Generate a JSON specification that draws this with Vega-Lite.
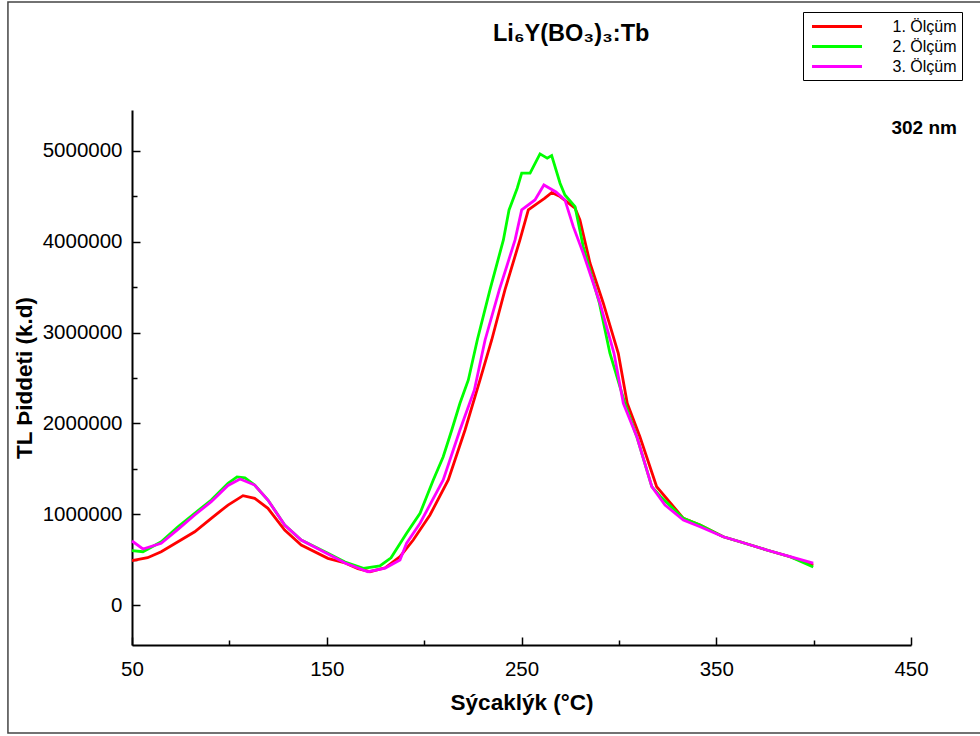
{
"$schema": "https://vega.github.io/schema/vega-lite/v6.json",
"width": 779, "height": 535,
"autosize": "none",
"padding": {"left": 132, "top": 110, "right": 69, "bottom": 91},
"background": "white",
"config": {"view": {"stroke": null}, "font": "Liberation Sans"},
"title": {"text": "Li₆Y(BO₃)₃:Tb", "anchor": "start", "frame": "group", "dx": 361, "fontSize": 23.5, "fontWeight": "bold", "color": "black", "baseline": "alphabetic", "offset": 0, "dy": 63},
"datasets": {
"tl": [
{"s":"1. Ölçüm","T":50,"I":490000},{"s":"1. Ölçüm","T":58,"I":521000},{"s":"1. Ölçüm","T":65,"I":587000},{"s":"1. Ölçüm","T":73.6,"I":697000},{"s":"1. Ölçüm","T":82.2,"I":807000},{"s":"1. Ölçüm","T":90.7,"I":955000},{"s":"1. Ölçüm","T":99.3,"I":1101000},{"s":"1. Ölçüm","T":107,"I":1204000},{"s":"1. Ölçüm","T":113,"I":1175000},{"s":"1. Ölçüm","T":119.8,"I":1065000},{"s":"1. Ölçüm","T":128.4,"I":826000},{"s":"1. Ölçüm","T":136.9,"I":661000},{"s":"1. Ölçüm","T":150.6,"I":514000},{"s":"1. Ölçüm","T":159.4,"I":463000},{"s":"1. Ölçüm","T":166,"I":400000},{"s":"1. Ölçüm","T":172.2,"I":367000},{"s":"1. Ölçüm","T":180,"I":410000},{"s":"1. Ölçüm","T":187.6,"I":532000},{"s":"1. Ölçüm","T":194.4,"I":716000},{"s":"1. Ölçüm","T":203,"I":991000},{"s":"1. Ölçüm","T":212.4,"I":1377000},{"s":"1. Ölçüm","T":221,"I":1927000},{"s":"1. Ölçüm","T":228.7,"I":2478000},{"s":"1. Ölçüm","T":234.7,"I":2918000},{"s":"1. Ölçüm","T":241.5,"I":3469000},{"s":"1. Ölçüm","T":249.2,"I":4020000},{"s":"1. Ölçüm","T":253.5,"I":4350000},{"s":"1. Ölçüm","T":258,"I":4420000},{"s":"1. Ölçüm","T":262,"I":4479000},{"s":"1. Ölçüm","T":265.5,"I":4541000},{"s":"1. Ölçüm","T":269.8,"I":4497000},{"s":"1. Ölçüm","T":277.5,"I":4369000},{"s":"1. Ölçüm","T":280,"I":4240000},{"s":"1. Ölçüm","T":285.2,"I":3763000},{"s":"1. Ölçüm","T":292,"I":3323000},{"s":"1. Ölçüm","T":299.7,"I":2772000},{"s":"1. Ölçüm","T":304.3,"I":2221000},{"s":"1. Ölçüm","T":310.8,"I":1853000},{"s":"1. Ölçüm","T":319.4,"I":1303000},{"s":"1. Ölçüm","T":333.1,"I":955000},{"s":"1. Ölçüm","T":341.7,"I":881000},{"s":"1. Ölçüm","T":353.6,"I":752000},{"s":"1. Ölçüm","T":362.2,"I":697000},{"s":"1. Ölçüm","T":375.9,"I":606000},{"s":"1. Ölçüm","T":387.9,"I":532000},{"s":"1. Ölçüm","T":399.8,"I":440000},
{"s":"2. Ölçüm","T":50,"I":598000},{"s":"2. Ölçüm","T":55.6,"I":587000},{"s":"2. Ölçüm","T":65,"I":697000},{"s":"2. Ölçüm","T":73.6,"I":862000},{"s":"2. Ölçüm","T":82.2,"I":1010000},{"s":"2. Ölçüm","T":90.7,"I":1156000},{"s":"2. Ölçüm","T":99.3,"I":1340000},{"s":"2. Ölçüm","T":103.9,"I":1410000},{"s":"2. Ölçüm","T":108,"I":1399000},{"s":"2. Ölçüm","T":113,"I":1321000},{"s":"2. Ölçüm","T":119.8,"I":1156000},{"s":"2. Ölçüm","T":128.4,"I":881000},{"s":"2. Ölçüm","T":136.9,"I":716000},{"s":"2. Ölçüm","T":150.6,"I":569000},{"s":"2. Ölçüm","T":159.4,"I":474000},{"s":"2. Ölçüm","T":168.8,"I":404000},{"s":"2. Ölçüm","T":177.3,"I":430000},{"s":"2. Ölçüm","T":183,"I":520000},{"s":"2. Ölçüm","T":191,"I":790000},{"s":"2. Ölçüm","T":197.9,"I":1010000},{"s":"2. Ölçüm","T":204.7,"I":1377000},{"s":"2. Ölçüm","T":209.8,"I":1633000},{"s":"2. Ölçüm","T":214.2,"I":1927000},{"s":"2. Ölçüm","T":218.4,"I":2221000},{"s":"2. Ölçüm","T":222.7,"I":2478000},{"s":"2. Ölçüm","T":227.3,"I":2918000},{"s":"2. Ölçüm","T":233.8,"I":3469000},{"s":"2. Ölçüm","T":240.7,"I":4020000},{"s":"2. Ölçüm","T":243.6,"I":4350000},{"s":"2. Ölçüm","T":247.8,"I":4589000},{"s":"2. Ölçüm","T":250.1,"I":4754000},{"s":"2. Ölçüm","T":254.4,"I":4754000},{"s":"2. Ölçüm","T":259.5,"I":4967000},{"s":"2. Ölçüm","T":263.2,"I":4919000},{"s":"2. Ölçüm","T":265.5,"I":4948000},{"s":"2. Ölçüm","T":269.8,"I":4644000},{"s":"2. Ölçüm","T":272.3,"I":4515000},{"s":"2. Ölçüm","T":277.5,"I":4386000},{"s":"2. Ölçüm","T":281.7,"I":3946000},{"s":"2. Ölçüm","T":290,"I":3323000},{"s":"2. Ölçüm","T":295.4,"I":2772000},{"s":"2. Ölçüm","T":303.1,"I":2221000},{"s":"2. Ölçüm","T":309.2,"I":1853000},{"s":"2. Ölçüm","T":316.9,"I":1303000},{"s":"2. Ölçüm","T":321.1,"I":1200000},{"s":"2. Ölçüm","T":333.1,"I":955000},{"s":"2. Ölçüm","T":341.7,"I":881000},{"s":"2. Ölçüm","T":353.6,"I":752000},{"s":"2. Ölçüm","T":362.2,"I":697000},{"s":"2. Ölçüm","T":375.9,"I":606000},{"s":"2. Ölçüm","T":387.9,"I":532000},{"s":"2. Ölçüm","T":399.8,"I":418000},
{"s":"3. Ölçüm","T":50,"I":705000},{"s":"3. Ölçüm","T":55.6,"I":617000},{"s":"3. Ölçüm","T":65,"I":680000},{"s":"3. Ölçüm","T":73.6,"I":833000},{"s":"3. Ölçüm","T":82.2,"I":991000},{"s":"3. Ölçüm","T":90.7,"I":1138000},{"s":"3. Ölçüm","T":99.3,"I":1316000},{"s":"3. Ölçüm","T":105.5,"I":1388000},{"s":"3. Ölçüm","T":113,"I":1321000},{"s":"3. Ölçüm","T":119.8,"I":1156000},{"s":"3. Ölçüm","T":128.4,"I":881000},{"s":"3. Ölçüm","T":136.9,"I":716000},{"s":"3. Ölçüm","T":150.6,"I":562000},{"s":"3. Ölçüm","T":159.4,"I":463000},{"s":"3. Ölçüm","T":171.2,"I":367000},{"s":"3. Ölçüm","T":180,"I":407000},{"s":"3. Ölçüm","T":187.6,"I":496000},{"s":"3. Ölçüm","T":191,"I":680000},{"s":"3. Ölçüm","T":197.9,"I":900000},{"s":"3. Ölçüm","T":209.8,"I":1377000},{"s":"3. Ölçüm","T":218.4,"I":1927000},{"s":"3. Ölçüm","T":225.8,"I":2368000},{"s":"3. Ölçüm","T":231.3,"I":2918000},{"s":"3. Ölçüm","T":238.6,"I":3469000},{"s":"3. Ölçüm","T":246.7,"I":4020000},{"s":"3. Ölçüm","T":250.1,"I":4350000},{"s":"3. Ölçüm","T":256.9,"I":4460000},{"s":"3. Ölçüm","T":261.5,"I":4625000},{"s":"3. Ölçüm","T":267.7,"I":4548000},{"s":"3. Ölçüm","T":272.3,"I":4460000},{"s":"3. Ölçüm","T":276.6,"I":4166000},{"s":"3. Ölçüm","T":281.7,"I":3873000},{"s":"3. Ölçüm","T":290.3,"I":3323000},{"s":"3. Ölçüm","T":297.5,"I":2772000},{"s":"3. Ölçüm","T":302.3,"I":2221000},{"s":"3. Ölçüm","T":309.2,"I":1853000},{"s":"3. Ölçüm","T":316.9,"I":1303000},{"s":"3. Ölçüm","T":323.7,"I":1101000},{"s":"3. Ölçüm","T":333.1,"I":936000},{"s":"3. Ölçüm","T":341.7,"I":862000},{"s":"3. Ölçüm","T":353.6,"I":752000},{"s":"3. Ölçüm","T":362.2,"I":697000},{"s":"3. Ölçüm","T":375.9,"I":606000},{"s":"3. Ölçüm","T":387.9,"I":532000},{"s":"3. Ölçüm","T":399.8,"I":462000}
],
"note": [{"label": "302 nm"}],
"frame": [{"name": "frame"}]
},
"layer": [
{
"data": {"name": "frame"},
"mark": {"type": "rect", "fill": null, "stroke": "#444444", "strokeWidth": 1.5, "clip": false},
"encoding": {
"x": {"datum": -13.7, "type": "quantitative"},
"x2": {"datum": 492},
"y": {"datum": 6640000, "type": "quantitative"},
"y2": {"datum": -1409000}
}
},
{
"data": {"name": "tl"},
"mark": {"type": "line", "strokeWidth": 2.8},
"encoding": {
"x": {"field": "T", "type": "quantitative",
 "scale": {"domain": [50, 450], "nice": false, "zero": false},
 "axis": {"values": [50,100,150,200,250,300,350,400,450],
  "labelExpr": "(datum.value - 50) % 100 === 0 ? datum.label : ''",
  "title": "Sýcaklýk (°C)", "grid": false, "domainColor": "black", "domainWidth": 2,
  "tickColor": "black", "tickWidth": 1.5,
  "tickSize": {"condition": {"test": "(datum.value - 50) % 100 === 0", "value": -8}, "value": -5},
  "labelPadding": 22, "labelFontSize": 20.5, "labelColor": "black", "labelFlush": false, "labelOverlap": false,
  "titleFontSize": 22.5, "titleFontWeight": "bold", "titleColor": "black", "titlePadding": 9}},
"y": {"field": "I", "type": "quantitative",
 "scale": {"domain": [-440000, 5450000], "nice": false, "zero": false},
 "axis": {"values": [0,500000,1000000,1500000,2000000,2500000,3000000,3500000,4000000,4500000,5000000],
  "format": "d",
  "labelExpr": "datum.value % 1000000 === 0 ? datum.label : ''",
  "title": "TL Þiddeti (k.d)", "grid": false, "domainColor": "black", "domainWidth": 2,
  "tickColor": "black", "tickWidth": 1.5,
  "tickSize": {"condition": {"test": "datum.value % 1000000 === 0", "value": -8}, "value": -5},
  "labelPadding": 18, "labelFontSize": 20.5, "labelColor": "black", "labelOverlap": false,
  "titleFontSize": 22.5, "titleFontWeight": "bold", "titleColor": "black", "titlePadding": 6}},
"color": {"field": "s", "type": "nominal",
 "scale": {"domain": ["1. Ölçüm", "2. Ölçüm", "3. Ölçüm"], "range": ["#ff0000", "#00ff00", "#ff00ff"]},
 "legend": {"title": null, "orient": "none", "legendX": 671, "legendY": -98,
  "strokeColor": "black", "fillColor": "white", "padding": 5, "rowPadding": 2,
  "symbolType": "M-3.125,0H3.125", "symbolSize": 256, "symbolStrokeWidth": 3,
  "symbolOffset": 19.5, "labelOffset": 46, "labelFontSize": 16, "labelColor": "black",
  "labelExpr": "datum.label + '\u00a0\u00a0'"}}
}
},
{
"data": {"name": "note"},
"mark": {"type": "text", "align": "right", "baseline": "middle", "fontSize": 19, "fontWeight": "bold", "color": "black", "clip": false},
"encoding": {
"x": {"datum": 473.6, "type": "quantitative"},
"y": {"datum": 5253000, "type": "quantitative"},
"text": {"field": "label"}
}
}
]
}
